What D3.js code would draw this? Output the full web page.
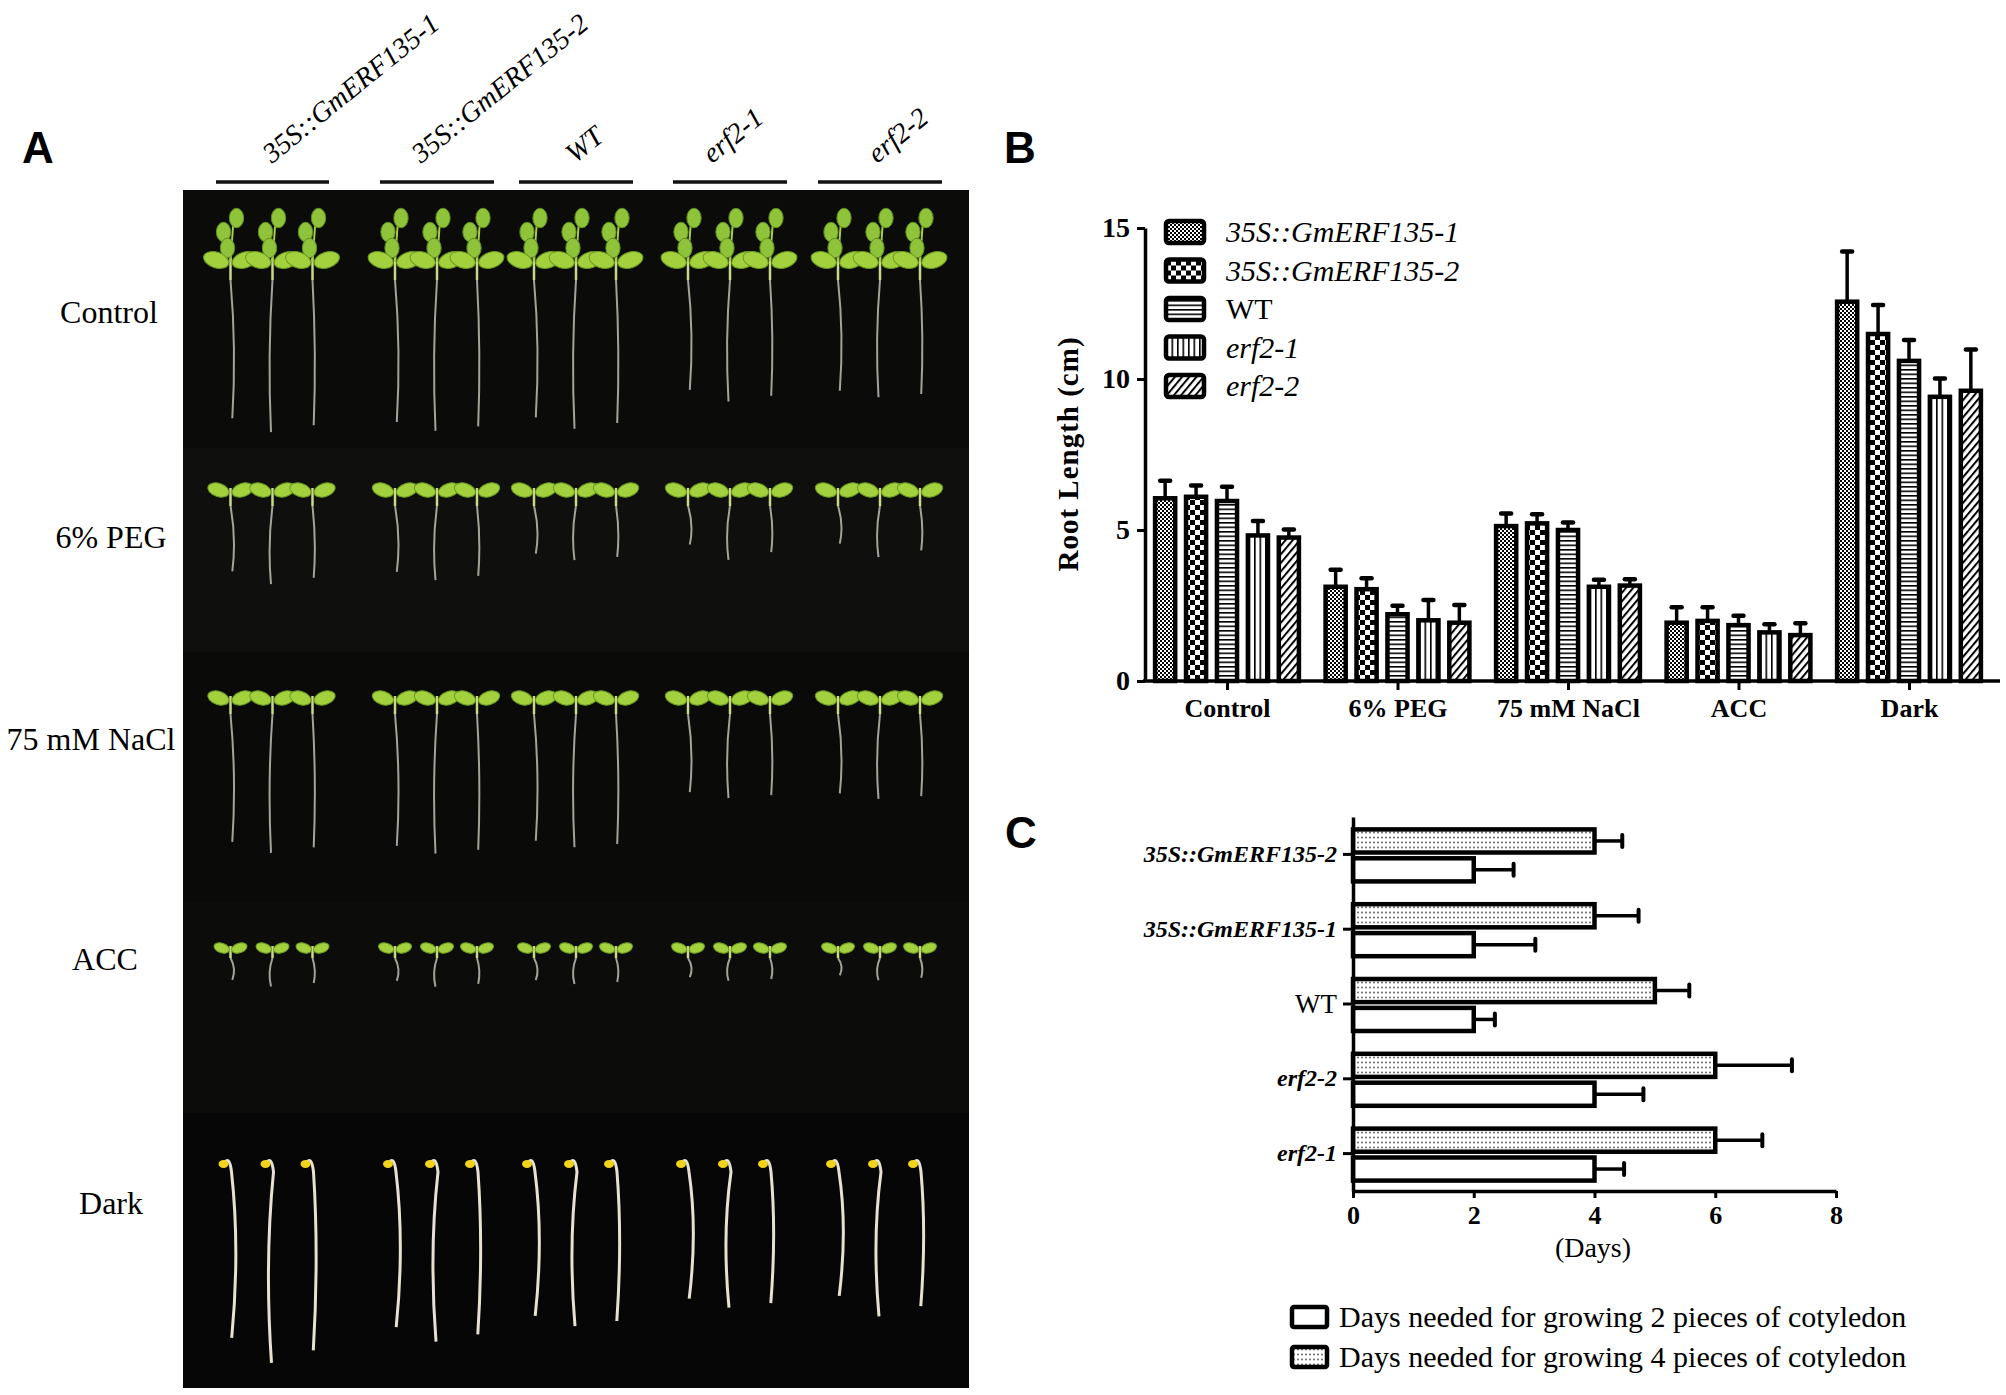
<!DOCTYPE html>
<html>
<head>
<meta charset="utf-8">
<script src="https://cdn.jsdelivr.net/npm/d3@7"></script>
<style>
  body { margin: 0; background: #fff; }
  svg { display: block; }
</style>
</head>
<body>
<div id="chart"></div>
<script>
// Data
const conditions = ["Control", "6% PEG", "75 mM NaCl", "ACC", "Dark"];
const genotypes = ["35S::GmERF135-1", "35S::GmERF135-2", "WT", "erf2-1", "erf2-2"];

// root length (cm), one array per genotype, in the order of `conditions`
const rootGm1 = [6.05, 3.12, 5.13, 1.93, 12.56];
const rootGm2 = [6.10, 3.04, 5.22, 1.99, 11.49];
const rootWT = [5.96, 2.21, 5.00, 1.85, 10.60];
const rootErf1 = [4.82, 2.01, 3.12, 1.61, 9.41];
const rootErf2 = [4.75, 1.93, 3.16, 1.52, 9.61];

const errGm1 = [0.58, 0.56, 0.42, 0.51, 1.66];
const errGm2 = [0.37, 0.36, 0.30, 0.45, 0.96];
const errWT = [0.47, 0.28, 0.25, 0.31, 0.69];
const errErf1 = [0.48, 0.67, 0.23, 0.27, 0.61];
const errErf2 = [0.27, 0.59, 0.21, 0.39, 1.37];

const rootTicks = [0, 5, 10, 15];

// days to cotyledon stage, panel C (top to bottom)
const dayGenotypes = ["35S::GmERF135-2", "35S::GmERF135-1", "WT", "erf2-2", "erf2-1"];
const days2 = [2, 2, 2, 4, 4];
const days2Err = [0.66, 1.02, 0.35, 0.81, 0.49];
const days4 = [4, 4, 5, 6, 6];
const days4Err = [0.46, 0.73, 0.57, 1.27, 0.78];
const dayTicks = [0, 2, 4, 6, 8];
const dayLegend = [
  "Days needed for growing 2 pieces of cotyledon",
  "Days needed for growing 4 pieces of cotyledon",
];

const rootMeans = [rootGm1, rootGm2, rootWT, rootErf1, rootErf2];
const rootErrs = [errGm1, errGm2, errWT, errErf1, errErf2];

// Styling
const SERIF = "'Liberation Serif', 'Times New Roman', serif";
const SANS = "'Liberation Sans', Arial, sans-serif";
const patternIds = ["p-fine", "p-check", "p-hline", "p-vline", "p-diag"];
const isItalic = (name) => name !== "WT";

const svg = d3
  .select("#chart")
  .append("svg")
  .attr("width", 2006)
  .attr("height", 1395);

svg.append("rect").attr("width", 2006).attr("height", 1395).attr("fill", "#fff");

// Pattern fills
const defs = svg.append("defs");

const addPattern = (id, w, h, draw, transform) => {
  const p = defs
    .append("pattern")
    .attr("id", id)
    .attr("patternUnits", "userSpaceOnUse")
    .attr("width", w)
    .attr("height", h);
  if (transform) p.attr("patternTransform", transform);
  p.append("rect").attr("width", w).attr("height", h).attr("fill", "#fff");
  draw(p);
};

addPattern("p-fine", 4, 4, (p) => {
  p.append("rect").attr("width", 2).attr("height", 2).attr("fill", "#000");
  p.append("rect").attr("x", 2).attr("y", 2).attr("width", 2).attr("height", 2).attr("fill", "#000");
});
addPattern("p-check", 10, 10, (p) => {
  p.append("rect").attr("width", 5).attr("height", 5).attr("fill", "#000");
  p.append("rect").attr("x", 5).attr("y", 5).attr("width", 5).attr("height", 5).attr("fill", "#000");
});
addPattern("p-hline", 10, 4.5, (p) => {
  p.append("rect").attr("width", 10).attr("height", 1.6).attr("fill", "#000");
});
addPattern("p-vline", 5.5, 10, (p) => {
  p.append("rect").attr("width", 1.6).attr("height", 10).attr("fill", "#000");
});
addPattern("p-diag", 5.5, 10, (p) => {
  p.append("rect").attr("width", 2).attr("height", 10).attr("fill", "#000");
}, "rotate(40)");
addPattern("p-dots", 4, 5, (p) => {
  p.append("circle").attr("cx", 2).attr("cy", 2.5).attr("r", 1).attr("fill", "#666");
});

// Panel letters
const letters = [["A", 22, 163], ["B", 1004, 163], ["C", 1005, 848]];
svg
  .selectAll("text.letter")
  .data(letters)
  .enter()
  .append("text")
  .attr("class", "letter")
  .attr("x", (d) => d[1])
  .attr("y", (d) => d[2])
  .attr("font-family", SANS)
  .attr("font-weight", "bold")
  .attr("font-size", 44)
  .text((d) => d[0]);

// ---------------- Panel A: seedling plates ----------------
const photo = { x0: 183, x1: 969, top: 190, bottom: 1388 };
const colLines = [[216, 329], [380, 494], [519, 633], [673, 787], [818, 942]];
const colLabelStart = [272, 421, 575, 712, 877];
const rowLayout = [
  { top: 190, bottom: 448, leafY: 262, hypo: 18, pxPerCm: 24, leaf: 13, bg: "#0b0b0a", labelX: 109, labelY: 323 },
  { top: 448, bottom: 652, leafY: 492, hypo: 14, pxPerCm: 23, leaf: 11, bg: "#0f0f0e", labelX: 111, labelY: 548 },
  { top: 652, bottom: 902, leafY: 700, hypo: 14, pxPerCm: 26, leaf: 11, bg: "#0a0a09", labelX: 91, labelY: 750 },
  { top: 902, bottom: 1113, leafY: 950, hypo: 8, pxPerCm: 13, leaf: 8, bg: "#0c0c0b", labelX: 105, labelY: 970 },
  { top: 1113, bottom: 1388, leafY: 1162, hypo: 0, pxPerCm: 15, leaf: 5, bg: "#060606", labelX: 111, labelY: 1214 },
];
const seedOffsets = [-42, 0, 40];
const seedBend = [6, -5, 4];

const gA = svg.append("g").attr("class", "panel-a");

gA
  .selectAll("rect.row")
  .data(rowLayout)
  .enter()
  .append("rect")
  .attr("x", photo.x0)
  .attr("y", (d) => d.top)
  .attr("width", photo.x1 - photo.x0)
  .attr("height", (d) => d.bottom - d.top)
  .attr("fill", (d) => d.bg);

gA
  .selectAll("line.col")
  .data(colLines)
  .enter()
  .append("line")
  .attr("x1", (d) => d[0])
  .attr("x2", (d) => d[1])
  .attr("y1", 182)
  .attr("y2", 182)
  .attr("stroke", "#111")
  .attr("stroke-width", 3.5);

gA
  .selectAll("text.col")
  .data(genotypes)
  .enter()
  .append("text")
  .attr("transform", (d, i) => `translate(${colLabelStart[i]},164) rotate(-39)`)
  .attr("font-family", SERIF)
  .attr("font-style", "italic")
  .attr("font-size", 28)
  .text((d) => d);

gA
  .selectAll("text.row")
  .data(conditions)
  .enter()
  .append("text")
  .attr("x", (d, i) => rowLayout[i].labelX)
  .attr("y", (d, i) => rowLayout[i].labelY)
  .attr("text-anchor", "middle")
  .attr("font-family", SERIF)
  .attr("font-size", 32)
  .text((d) => d);

// seedlings: three per genotype, root length taken from panel B values
const drawLightSeedling = (g, x, row, lenPx, k, withTrueLeaves) => {
  const y0 = row.leafY;
  const yr = y0 + row.hypo;
  const b = seedBend[k];
  g.append("path")
    .attr("d", `M${x},${yr} Q${x + b},${yr + lenPx * 0.5} ${x + b * 0.3},${yr + lenPx}`)
    .attr("fill", "none")
    .attr("stroke", "#c9c9bb")
    .attr("stroke-opacity", 0.8)
    .attr("stroke-width", 2);
  g.append("line")
    .attr("x1", x).attr("x2", x)
    .attr("y1", y0 - 4).attr("y2", yr)
    .attr("stroke", "#c8d98a")
    .attr("stroke-width", 2.5);
  if (withTrueLeaves) {
    g.append("line")
      .attr("x1", x).attr("x2", x + 3)
      .attr("y1", y0).attr("y2", y0 - 42)
      .attr("stroke", "#a9cc4a").attr("stroke-width", 2);
    [[-7, -30], [6, -44], [-3, -14]].forEach(([dx, dy]) => {
      g.append("ellipse")
        .attr("cx", x + dx).attr("cy", y0 + dy)
        .attr("rx", row.leaf * 0.55).attr("ry", row.leaf * 0.75)
        .attr("fill", "#8fc43a").attr("stroke", "#5f8e1c").attr("stroke-width", 1);
    });
  }
  [-1, 1].forEach((s) => {
    g.append("ellipse")
      .attr("cx", x + s * row.leaf * 1.1)
      .attr("cy", y0 - 2)
      .attr("rx", row.leaf)
      .attr("ry", row.leaf * 0.6)
      .attr("transform", `rotate(${s * -18},${x + s * row.leaf * 1.1},${y0 - 2})`)
      .attr("fill", "#a3d13e")
      .attr("stroke", "#6a9a20")
      .attr("stroke-width", 1);
  });
};

const drawDarkSeedling = (g, x, row, lenPx, k) => {
  const y0 = row.leafY;
  const b = seedBend[k];
  g.append("path")
    .attr("d", `M${x - 7},${y0 + 2} Q${x - 1},${y0 - 8} ${x + 1},${y0 + 10} Q${x + b * 1.6},${y0 + lenPx * 0.5} ${x + b * 0.2},${y0 + lenPx}`)
    .attr("fill", "none")
    .attr("stroke", "#e6e2cf")
    .attr("stroke-width", 3);
  g.append("ellipse")
    .attr("cx", x - 7).attr("cy", y0 + 2)
    .attr("rx", row.leaf).attr("ry", row.leaf * 0.8)
    .attr("fill", "#f2d31b");
};

const seedG = gA.append("g").attr("class", "seedlings");
conditions.forEach((cond, ci) => {
  const row = rowLayout[ci];
  genotypes.forEach((gen, gi) => {
    const mean = rootMeans[gi][ci];
    const err = rootErrs[gi][ci];
    const lens = [mean - err / 2, mean + err / 2, mean];
    const cx = (colLines[gi][0] + colLines[gi][1]) / 2;
    lens.forEach((len, k) => {
      const x = cx + seedOffsets[k];
      if (cond === "Dark") drawDarkSeedling(seedG, x, row, len * row.pxPerCm, k);
      else drawLightSeedling(seedG, x, row, len * row.pxPerCm, k, cond === "Control");
    });
  });
});

// ---------------- Panel B: root length ----------------
const yB = d3.scaleLinear().domain([0, 15]).range([681, 228]);
const xB = d3.scalePoint().domain(conditions).range([1227, 1909]);
const xBInner = d3
  .scaleBand()
  .domain(genotypes)
  .range([-75, 75])
  .paddingInner(0.35)
  .paddingOuter(0.1);

const gB = svg.append("g").attr("class", "panel-b");

const barData = [];
conditions.forEach((cond, ci) => {
  genotypes.forEach((gen, gi) => {
    barData.push({ cond, gen, gi, v: rootMeans[gi][ci], e: rootErrs[gi][ci] });
  });
});

const bBars = gB.selectAll("g.bar").data(barData).enter().append("g");
const barMid = (d) => xB(d.cond) + xBInner(d.gen) + xBInner.bandwidth() / 2;

bBars
  .append("line")
  .attr("x1", barMid)
  .attr("x2", barMid)
  .attr("y1", (d) => yB(d.v))
  .attr("y2", (d) => yB(d.v + d.e))
  .attr("stroke", "#000")
  .attr("stroke-width", 3.5);

bBars
  .append("line")
  .attr("x1", (d) => barMid(d) - 5)
  .attr("x2", (d) => barMid(d) + 5)
  .attr("y1", (d) => yB(d.v + d.e))
  .attr("y2", (d) => yB(d.v + d.e))
  .attr("stroke", "#000")
  .attr("stroke-width", 4.5)
  .attr("stroke-linecap", "round");

bBars
  .append("rect")
  .attr("x", (d) => xB(d.cond) + xBInner(d.gen))
  .attr("y", (d) => yB(d.v))
  .attr("width", xBInner.bandwidth())
  .attr("height", (d) => yB(0) - yB(d.v))
  .attr("fill", (d) => `url(#${patternIds[d.gi]})`)
  .attr("stroke", "#000")
  .attr("stroke-width", 4.5);

const styleAxis = (g, size, weight) => {
  g.attr("font-family", SERIF).attr("font-size", size).attr("font-weight", weight);
  g.selectAll(".domain").attr("stroke", "#000").attr("stroke-width", 3.5);
  g.selectAll(".tick line").attr("stroke", "#000").attr("stroke-width", 3);
  g.selectAll(".tick text").attr("fill", "#000");
};

const yAxisB = gB
  .append("g")
  .attr("transform", "translate(1145,0)")
  .call(d3.axisLeft(yB).tickValues(rootTicks).tickSize(8).tickSizeOuter(0).tickPadding(7));
styleAxis(yAxisB, 28, "bold");

const xAxisB = gB
  .append("g")
  .attr("transform", "translate(0,681)")
  .call(d3.axisBottom(xB).tickSize(9).tickSizeOuter(0).tickPadding(9));
styleAxis(xAxisB, 26, "bold");
xAxisB.select(".domain").remove();
gB.append("line")
  .attr("x1", 1143).attr("x2", 2000)
  .attr("y1", 681).attr("y2", 681)
  .attr("stroke", "#000").attr("stroke-width", 3.5);

gB.append("text")
  .attr("transform", "translate(1078,454) rotate(-90)")
  .attr("text-anchor", "middle")
  .attr("font-family", SERIF)
  .attr("font-weight", "bold")
  .attr("font-size", 29)
  .attr("letter-spacing", 1)
  .text("Root Length (cm)");

// legend B
const legB = gB
  .selectAll("g.leg")
  .data(genotypes)
  .enter()
  .append("g")
  .attr("transform", (d, i) => `translate(1166,${232 + i * 38.5})`);

legB
  .append("rect")
  .attr("x", 0)
  .attr("y", -11)
  .attr("width", 38)
  .attr("height", 22)
  .attr("rx", 3)
  .attr("fill", (d, i) => `url(#${patternIds[i]})`)
  .attr("stroke", "#000")
  .attr("stroke-width", 4.5);

legB
  .append("text")
  .attr("x", 60)
  .attr("y", 10)
  .attr("font-family", SERIF)
  .attr("font-size", 30)
  .attr("font-style", (d) => (isItalic(d) ? "italic" : "normal"))
  .text((d) => d);

// ---------------- Panel C: cotyledon days ----------------
const xC = d3.scaleLinear().domain([0, 8]).range([1353, 1836]);
const yC = d3.scaleBand().domain(dayGenotypes).range([817, 1191]);
const yCInner = d3.scaleBand().domain(["four", "two"]).range([-25, 27]).paddingInner(0.2);

const gC = svg.append("g").attr("class", "panel-c");

const dayData = [];
dayGenotypes.forEach((gen, i) => {
  dayData.push({ gen, kind: "four", v: days4[i], e: days4Err[i] });
  dayData.push({ gen, kind: "two", v: days2[i], e: days2Err[i] });
});

const cy = (d) => yC(d.gen) + yC.bandwidth() / 2 + yCInner(d.kind);
const cMid = (d) => cy(d) + yCInner.bandwidth() / 2;
const cBars = gC.selectAll("g.bar").data(dayData).enter().append("g");

cBars
  .append("line")
  .attr("x1", (d) => xC(d.v))
  .attr("x2", (d) => xC(d.v + d.e))
  .attr("y1", cMid)
  .attr("y2", cMid)
  .attr("stroke", "#000")
  .attr("stroke-width", 3.5);

cBars
  .append("line")
  .attr("x1", (d) => xC(d.v + d.e))
  .attr("x2", (d) => xC(d.v + d.e))
  .attr("y1", (d) => cMid(d) - 6)
  .attr("y2", (d) => cMid(d) + 6)
  .attr("stroke", "#000")
  .attr("stroke-width", 4)
  .attr("stroke-linecap", "round");

cBars
  .append("rect")
  .attr("x", xC(0))
  .attr("y", (d) => cy(d))
  .attr("width", (d) => xC(d.v) - xC(0))
  .attr("height", yCInner.bandwidth())
  .attr("fill", (d) => (d.kind === "four" ? "url(#p-dots)" : "#fff"))
  .attr("stroke", "#000")
  .attr("stroke-width", 4.5);

const yAxisC = gC
  .append("g")
  .attr("transform", `translate(${xC(0)},0)`)
  .call(d3.axisLeft(yC).tickSize(10).tickSizeOuter(0).tickPadding(6));
styleAxis(yAxisC, 24, "bold");
yAxisC
  .selectAll(".tick text")
  .attr("font-style", (d) => (isItalic(d) ? "italic" : "normal"))
  .attr("font-weight", (d) => (isItalic(d) ? "bold" : "normal"))
  .attr("font-size", (d) => (isItalic(d) ? 24 : 27));

const xAxisC = gC
  .append("g")
  .attr("transform", "translate(0,1191)")
  .call(d3.axisBottom(xC).tickValues(dayTicks).tickSize(7).tickSizeOuter(0).tickPadding(8));
styleAxis(xAxisC, 26, "bold");

gC.append("text")
  .attr("x", 1593)
  .attr("y", 1257)
  .attr("text-anchor", "middle")
  .attr("font-family", SERIF)
  .attr("font-size", 28)
  .text("(Days)");

// legend C
const legC = gC
  .selectAll("g.leg")
  .data(dayLegend)
  .enter()
  .append("g")
  .attr("transform", (d, i) => `translate(1292,${1317 + i * 40})`);

legC
  .append("rect")
  .attr("x", 0)
  .attr("y", -10)
  .attr("width", 35)
  .attr("height", 20)
  .attr("rx", 2)
  .attr("fill", (d, i) => (i === 0 ? "#fff" : "url(#p-dots)"))
  .attr("stroke", "#000")
  .attr("stroke-width", 4.5);

legC
  .append("text")
  .attr("x", 47)
  .attr("y", 10)
  .attr("font-family", SERIF)
  .attr("font-size", 30)
  .text((d) => d);
</script>
</body>
</html>
